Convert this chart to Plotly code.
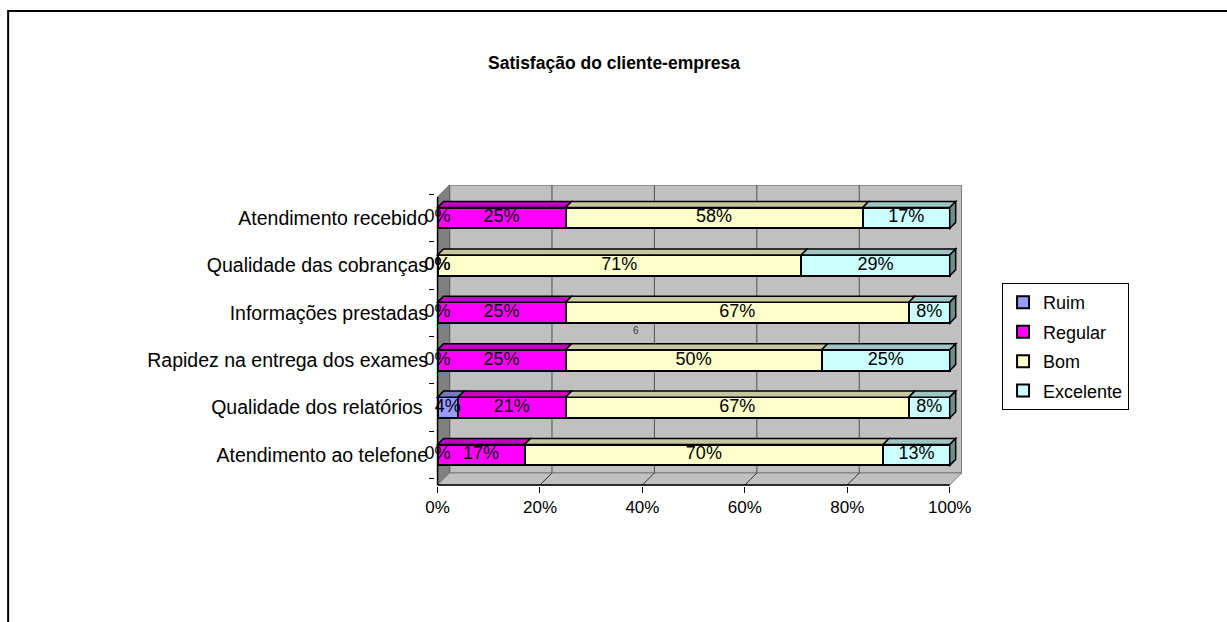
import plotly.graph_objects as go

# ---- data (bottom to top on the chart) ----
categories = ["Atendimento ao telefone", "Qualidade dos relatórios ", "Rapidez na entrega dos exames",
              "Informações prestadas", "Qualidade das cobranças", "Atendimento recebido"]
series_names = ["Ruim", "Regular", "Bom", "Excelente"]
ruim = [0, 4, 0, 0, 0, 0]
regular = [17, 21, 25, 25, 0, 25]
bom = [70, 67, 50, 67, 71, 58]
excelente = [13, 8, 25, 8, 29, 17]
x_tickvals = [0, 20, 40, 60, 80, 100]
x_ticktext = ["0%", "20%", "40%", "60%", "80%", "100%"]

series = [ruim, regular, bom, excelente]
colors = ["#9999ff", "#ff00ff", "#ffffcc", "#ccffff"]
FONT = "Arial, 'Liberation Sans', sans-serif"

def shade(hexc, f):
    r, g, b = int(hexc[1:3], 16), int(hexc[3:5], 16), int(hexc[5:7], 16)
    return "#%02x%02x%02x" % (int(r * f), int(g * f), int(b * f))

# geometry (axis units)
BW = 0.44          # bar thickness
DX, DY = 1.17, 0.127   # bar depth
WX, WY = 2.34, 0.253   # wall depth
YBOT = -0.633
YTOP = 5.696
XMIN, XMAX = -0.5, 102.4

fig = go.Figure()
for name, vals, col in zip(series_names, series, colors):
    fig.add_trace(go.Bar(
        orientation="h", x=vals, y=categories, name=name, width=BW,
        marker=dict(color=col, line=dict(color="black", width=2)),
        legendgroup=name, hoverinfo="x+y"))

# data labels
lx, ly, lt = [], [], []
for i, cat in enumerate(categories):
    start = 0
    for vals in series:
        v = vals[i]
        lx.append(start + v / 2)
        ly.append(cat)
        lt.append(f"{v}%")
        start += v
fig.add_trace(go.Scatter(x=lx, y=ly, text=lt, mode="text", showlegend=False,
                         textfont=dict(family=FONT, size=18, color="black"),
                         cliponaxis=False, hoverinfo="skip"))

shapes = []
# back wall
shapes.append(dict(type="rect", xref="x", yref="y", x0=WX, x1=100 + WX, y0=YBOT + WY, y1=YTOP,
                   fillcolor="#c0c0c0", line=dict(color="#808080", width=1.5), layer="below"))
# left wall
shapes.append(dict(type="path", xref="x", yref="y", layer="below",
                   path=f"M 0,{YBOT} L 0,{YTOP - WY} L {WX},{YTOP} L {WX},{YBOT + WY} Z",
                   fillcolor="#808080", line=dict(color="#606060", width=1)))
# floor
shapes.append(dict(type="path", xref="x", yref="y", layer="below",
                   path=f"M 0,{YBOT} L 100,{YBOT} L {100 + WX},{YBOT + WY} L {WX},{YBOT + WY} Z",
                   fillcolor="#c0c0c0", line=dict(color="#808080", width=1)))
# gridlines on wall and floor
for xv in x_tickvals[1:-1]:
    shapes.append(dict(type="line", xref="x", yref="y", x0=xv + WX, x1=xv + WX, y0=YBOT + WY, y1=YTOP,
                       line=dict(color="#505050", width=1), layer="below"))
    shapes.append(dict(type="line", xref="x", yref="y", x0=xv, x1=xv + WX, y0=YBOT, y1=YBOT + WY,
                       line=dict(color="#303030", width=1), layer="below"))
# axis lines
shapes.append(dict(type="line", xref="x", yref="y", x0=0, x1=100, y0=YBOT, y1=YBOT,
                   line=dict(color="black", width=1.5), layer="below"))
shapes.append(dict(type="line", xref="x", yref="y", x0=0, x1=0, y0=YBOT, y1=YTOP - WY,
                   line=dict(color="black", width=1.5), layer="below"))

# 3D faces of bars
for i in range(len(categories)):
    yt = i + BW / 2
    yb = i - BW / 2
    start = 0
    for vals, col in zip(series, colors):
        v = vals[i]
        if v > 0:
            x0, x1 = start, start + v
            shapes.append(dict(type="path", xref="x", yref="y", layer="above",
                               path=f"M {x0},{yt} L {x1},{yt} L {x1 + DX},{yt + DY} L {x0 + DX},{yt + DY} Z",
                               fillcolor=shade(col, 0.78), line=dict(color="black", width=1.5)))
            last_col = col
        start += v
    shapes.append(dict(type="path", xref="x", yref="y", layer="above",
                       path=f"M {start},{yb} L {start},{yt} L {start + DX},{yt + DY} L {start + DX},{yb + DY} Z",
                       fillcolor=shade(last_col, 0.55), line=dict(color="black", width=1.5)))

# outer frame
shapes.append(dict(type="rect", xref="paper", yref="paper", x0=-0.810, x1=1.52, y0=-0.55, y1=1.578,
                   line=dict(color="black", width=2), fillcolor="rgba(0,0,0,0)"))

fig.update_layout(
    width=1227, height=622,
    margin=dict(l=435, r=265, t=185, b=136),
    paper_bgcolor="white", plot_bgcolor="white",
    barmode="stack",
    shapes=shapes,
    font=dict(family=FONT, size=18, color="black"),
    title=dict(text="<b>Satisfação do cliente-empresa</b>", x=0.5004, xref="container",
               y=1 - 63 / 622, yref="container", xanchor="center", yanchor="middle",
               font=dict(family=FONT, size=17.5, color="black")),
    xaxis=dict(range=[XMIN, XMAX], tickvals=x_tickvals, ticktext=x_ticktext, showgrid=False,
               zeroline=False, showline=False, ticks="outside", ticklen=6, tickcolor="black",
               tickfont=dict(family=FONT, size=17)),
    yaxis=dict(type="category", range=[-0.655, YTOP], showgrid=False, zeroline=False, showline=False,
               ticks="outside", tickson="boundaries", ticklen=5, tickcolor="black",
               ticklabelstandoff=6,
               tickfont=dict(family=FONT, size=19.5)),
    legend=dict(x=1.076, y=0.674, xanchor="left", yanchor="top", traceorder="grouped",
                bordercolor="black", borderwidth=1, bgcolor="white", tracegroupgap=3,
                font=dict(family=FONT, size=18)),
    annotations=[dict(text="6", x=0.381, y=0.515, xref="paper", yref="paper", showarrow=False,
                      font=dict(family=FONT, size=10, color="#333333"))],
)

fig.write_html("out.html")
